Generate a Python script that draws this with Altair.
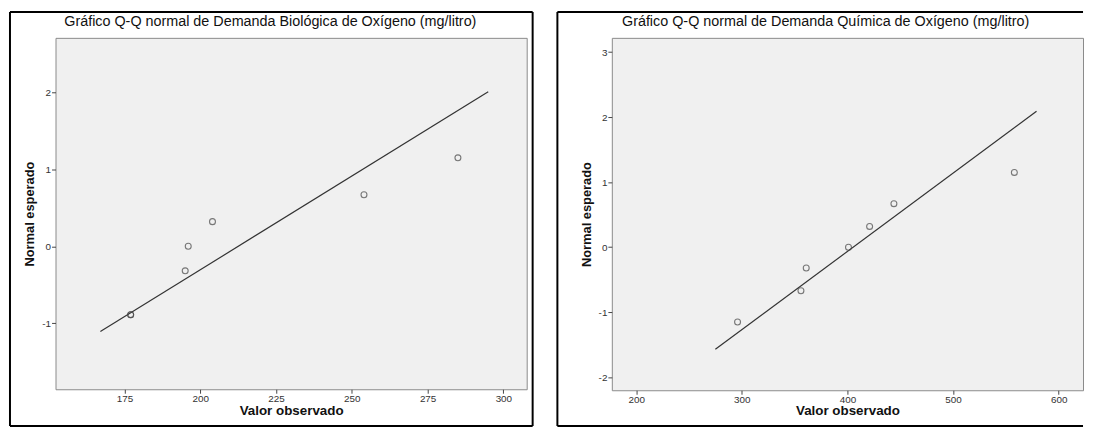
import altair as alt
import pandas as pd

# ---- data ----
dbo_obs = [177, 177, 195, 196, 204, 254, 285]
dbo_exp = [-0.89, -0.89, -0.32, 0.0, 0.32, 0.67, 1.15]
dbo_line_x = [167, 295]
dbo_line_y = [-1.11, 2.01]
dbo_xticks = [175, 200, 225, 250, 275, 300]
dbo_yticks = [-1, 0, 1, 2]

dqo_obs = [296, 356, 361, 401, 421, 444, 558]
dqo_exp = [-1.15, -0.67, -0.32, 0.0, 0.32, 0.67, 1.15]
dqo_line_x = [275, 579]
dqo_line_y = [-1.57, 2.09]
dqo_xticks = [200, 300, 400, 500, 600]
dqo_yticks = [-2, -1, 0, 1, 2, 3]

titles = [
    "Gráfico Q-Q normal de Demanda Biológica de Oxígeno (mg/litro)",
    "Gráfico Q-Q normal de Demanda Química de Oxígeno (mg/litro)",
]
x_title = "Valor observado"
y_title = "Normal esperado"

FONT = "Liberation Sans"
LBL = "'' + datum.value"


def panel(obs, exp, lx, ly, xticks, yticks, xdom, ydom, title, W, H,
          fx0, fx1, fy0, fy1, tx, right_side=True):
    pts = pd.DataFrame({"x": obs, "y": exp})
    ln = pd.DataFrame({"x": lx, "y": ly})
    xs = alt.Scale(domain=xdom, nice=False, zero=False)
    ys = alt.Scale(domain=ydom, nice=False, zero=False)
    xax = alt.Axis(values=xticks, labelExpr=LBL, grid=False, domain=False, tickSize=4,
                   tickColor="#444", labelFont=FONT, labelFontSize=10, labelColor="#333",
                   labelPadding=0, title=x_title, titleFont=FONT, titleFontSize=13.5,
                   titleFontWeight="bold", titleColor="#111", titleY=21,
                   titleBaseline="middle")
    yax = alt.Axis(values=yticks, labelExpr=LBL, grid=False, domain=False, tickSize=4,
                   tickColor="#444", labelFont=FONT, labelFontSize=10, labelColor="#333",
                   labelPadding=1, title=y_title, titleFont=FONT, titleFontSize=13,
                   titleFontWeight="bold", titleColor="#111", titleX=-26,
                   titleBaseline="middle")
    line = alt.Chart(ln).mark_line(color="#333", strokeWidth=1.2).encode(
        x=alt.X("x:Q", scale=xs, axis=xax), y=alt.Y("y:Q", scale=ys, axis=yax))
    points = alt.Chart(pts).mark_point(shape="circle", filled=False, size=36,
                                       stroke="#444", strokeWidth=1.1).encode(
        x=alt.X("x:Q", scale=xs), y=alt.Y("y:Q", scale=ys))
    one = alt.Data(values=[{"t": title}])
    fr = dict(color="black", strokeWidth=2)
    sides = [
        alt.Chart(one).mark_rule(**fr).encode(x=alt.value(fx0), x2=alt.value(fx1),
                                              y=alt.value(fy0)),
        alt.Chart(one).mark_rule(**fr).encode(x=alt.value(fx0), x2=alt.value(fx1),
                                              y=alt.value(fy1)),
        alt.Chart(one).mark_rule(**fr).encode(x=alt.value(fx0), y=alt.value(fy0),
                                              y2=alt.value(fy1)),
    ]
    if right_side:
        sides.append(alt.Chart(one).mark_rule(**fr).encode(
            x=alt.value(fx1), y=alt.value(fy0), y2=alt.value(fy1)))
    ttl = alt.Chart(one).mark_text(font=FONT, fontSize=14.5, color="#111",
                                   baseline="middle", align="center").encode(
        text="t:N", x=alt.value(tx), y=alt.value(-16))
    return alt.layer(*sides, line, points, ttl).properties(width=W, height=H)


left = panel(dbo_obs, dbo_exp, dbo_line_x, dbo_line_y, dbo_xticks, dbo_yticks,
             [152.2, 307.7], [-1.86, 2.71], titles[0], 476, 355,
             -46, 476 + 6, -26, 355 + 37, 217)
right = panel(dqo_obs, dqo_exp, dqo_line_x, dqo_line_y, dqo_xticks, dqo_yticks,
              [177.0, 623.0], [-2.2, 3.22], titles[1], 476, 356,
              -55, 476, -26, 356 + 36, 216, right_side=False)

chart = alt.hconcat(left, right, spacing=21).properties(
    padding={"left": 0, "top": 0, "right": 0, "bottom": 0}
).configure_view(fill="#f0f0f0", stroke="#8a8a8a", strokeWidth=1)

chart.save("out.html", embed_options={"renderer": "svg", "actions": False})
